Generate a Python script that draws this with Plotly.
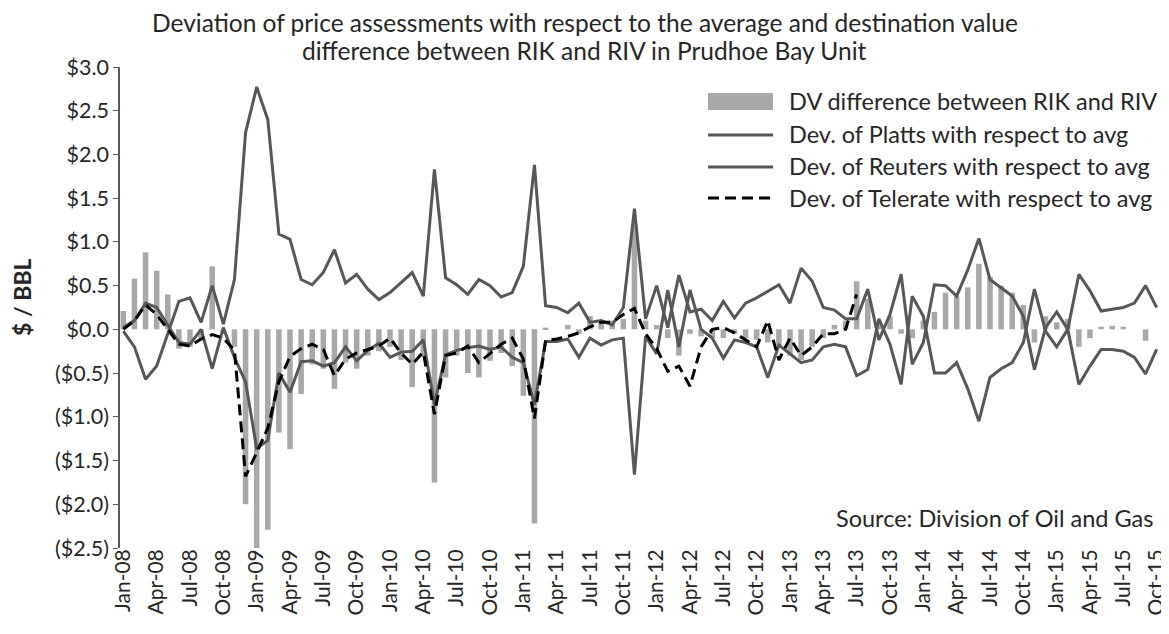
import pandas as pd
import plotly.graph_objects as go

# ---------------- data ----------------
months = list(pd.date_range("2008-01-01", "2015-10-01", freq="MS").strftime("%b-%y"))

dv_difference = [
    0.21, 0.58, 0.88, 0.67, 0.40, -0.22, -0.20, -0.12, 0.72, -0.05,
    -0.20, -2.00, -2.50, -2.29, -1.18, -1.37, -0.74, -0.40, -0.45, -0.68,
    -0.38, -0.45, -0.30, -0.25, -0.20, -0.35, -0.66, -0.30, -1.75, -0.55,
    -0.30, -0.50, -0.55, -0.36, -0.27, -0.42, -0.76, -2.22, 0.02, 0.00,
    0.05, -0.05, 0.15, 0.08, 0.10, 0.12, 1.20, 0.10, 0.05, -0.10,
    -0.30, -0.05, -0.08, -0.10, -0.10, -0.05, -0.10, -0.12, -0.15, -0.18,
    -0.30, -0.35, -0.20, -0.10, 0.05, 0.10, 0.55, 0.35, 0.05, 0.15,
    -0.05, -0.10, 0.10, 0.20, 0.42, 0.38, 0.48, 0.75, 0.60, 0.50,
    0.42, 0.28, -0.15, 0.15, 0.08, 0.12, -0.20, -0.10, 0.03, 0.04,
    0.03, 0.00, -0.13, 0.00,
]

dev_platts = [
    -0.02, -0.20, -0.57, -0.42, -0.05, 0.32, 0.36, 0.08, 0.50, 0.06,
    0.57, 2.25, 2.77, 2.40, 1.09, 1.03, 0.57, 0.51, 0.65, 0.91,
    0.53, 0.63, 0.46, 0.34, 0.42, 0.53, 0.65, 0.38, 1.83, 0.59,
    0.51, 0.40, 0.57, 0.50, 0.37, 0.42, 0.72, 1.88, 0.27, 0.25,
    0.19, 0.30, 0.08, 0.10, 0.05, 0.25, 1.38, 0.12, 0.50, 0.02,
    0.62, 0.20, 0.23, 0.10, 0.32, 0.13, 0.30, 0.36, 0.44, 0.51,
    0.30, 0.70, 0.55, 0.25, 0.22, 0.12, 0.12, 0.46, -0.12, 0.17,
    0.63, -0.40, -0.15, 0.51, 0.50, 0.38, 0.68, 1.04, 0.57, 0.47,
    0.38, 0.15, -0.46, 0.02, 0.20, 0.00, 0.63, 0.44, 0.21, 0.23,
    0.25, 0.30, 0.50, 0.25,
]

dev_reuters = [
    0.02, 0.10, 0.30, 0.25, 0.05, -0.15, -0.17, 0.00, -0.45, 0.02,
    -0.32, -0.60, -1.36, -1.27, -0.50, -0.72, -0.37, -0.36, -0.42, -0.38,
    -0.20, -0.36, -0.24, -0.16, -0.32, -0.26, -0.25, -0.12, -0.86, -0.29,
    -0.24, -0.21, -0.19, -0.23, -0.20, -0.32, -0.38, -0.86, -0.14, -0.14,
    -0.11, -0.32, -0.10, -0.18, -0.12, -0.10, -1.66, -0.08, -0.28, 0.45,
    -0.20, 0.45, 0.00, -0.10, -0.33, -0.12, -0.15, -0.20, -0.55, -0.18,
    -0.28, -0.38, -0.35, -0.20, -0.17, -0.20, -0.53, -0.46, 0.12, -0.17,
    -0.63, 0.38, 0.15, -0.50, -0.50, -0.38, -0.68, -1.05, -0.55, -0.45,
    -0.38, -0.15, 0.46, -0.02, -0.20, 0.00, -0.63, -0.42, -0.23, -0.23,
    -0.25, -0.32, -0.51, -0.23,
]

dev_telerate = [
    0.00, 0.10, 0.28, 0.17, 0.00, -0.17, -0.19, -0.11, -0.06, -0.10,
    -0.24, -1.68, -1.41, -1.13, -0.60, -0.31, -0.22, -0.17, -0.23, -0.53,
    -0.34, -0.27, -0.23, -0.19, -0.10, -0.27, -0.40, -0.26, -0.97, -0.30,
    -0.27, -0.19, -0.38, -0.27, -0.17, -0.10, -0.34, -1.02, -0.13, -0.11,
    -0.08, -0.04, 0.03, 0.08, 0.08, 0.17, 0.24, -0.05, -0.22, -0.48,
    -0.42, -0.65, -0.20, 0.00, 0.02, -0.04, -0.12, -0.20, 0.10, -0.35,
    -0.10, -0.30, -0.20, -0.05, -0.05, 0.00, 0.40,
] + [None] * 27

y_tick_values = [3.0, 2.5, 2.0, 1.5, 1.0, 0.5, 0.0, -0.5, -1.0, -1.5, -2.0, -2.5]
y_tick_labels = ["$3.0", "$2.5", "$2.0", "$1.5", "$1.0", "$0.5", "$0.0",
                 "($0.5)", "($1.0)", "($1.5)", "($2.0)", "($2.5)"]

title_lines = [
    "Deviation of price assessments with respect to the average and destination value",
    "difference between RIK and RIV in Prudhoe Bay Unit",
]
legend_labels = [
    "DV difference between RIK and RIV",
    "Dev. of Platts with respect to avg",
    "Dev. of Reuters with respect to avg",
    "Dev. of Telerate with respect to avg",
]
source_text = "Source: Division of Oil and Gas"

# ---------------- styling / layout ----------------
OFF = 8                      # page body margin of the browser
W, H = 1169 - OFF, 634 - OFF
PL, PR, PT, PB = 120, 1160, 67, 548   # plot box in window pixels
L, T = PL - OFF, PT - OFF
R, B = W - (PR - OFF), H - (PB - OFF)
FONT = "Lato, 'Open Sans', sans-serif"
TXT = "#262626"
BAR_C = "#a8a8a8"
LINE_C = "#575757"
AX_C = "#5a5a5a"


def px_x(px):
    return (px - PL) / (PR - PL)


def px_y(py):
    return (PB - py) / (PB - PT)


fig = go.Figure()
fig.add_trace(go.Bar(x=months, y=dv_difference, marker=dict(color=BAR_C, line=dict(width=0)),
                     name=legend_labels[0], showlegend=False))
fig.add_trace(go.Scatter(x=months, y=dev_platts, mode="lines", line=dict(color=LINE_C, width=3),
                         name=legend_labels[1], showlegend=False))
fig.add_trace(go.Scatter(x=months, y=dev_reuters, mode="lines", line=dict(color=LINE_C, width=3),
                         name=legend_labels[2], showlegend=False))
fig.add_trace(go.Scatter(x=months, y=dev_telerate, mode="lines",
                         line=dict(color="#000000", width=3, dash="11px,6px"),
                         name=legend_labels[3], showlegend=False, connectgaps=False))

n = len(months)
fig.update_layout(
    width=W, height=H,
    margin=dict(l=L, r=R, t=T, b=B, autoexpand=False),
    paper_bgcolor="white", plot_bgcolor="white",
    font=dict(family=FONT, size=22, color=TXT),
    bargap=0.5,
    xaxis=dict(
        type="category", range=[-0.3, n - 1 + 0.3], automargin=False,
        tickmode="array", tickvals=months[::3], ticktext=months[::3],
        tickangle=-90, showline=False, ticks="", showgrid=False, zeroline=False,
        tickfont=dict(size=21, color=TXT), ticklabelstandoff=-4,
    ),
    xaxis2=dict(
        type="linear", overlaying="x", anchor="free", position=2.5 / 5.5,
        range=[-0.3, n - 1 + 0.3], showline=True, linecolor=AX_C, linewidth=1.5,
        ticks="outside", ticklen=4, tickcolor=AX_C, tickwidth=1.2,
        tickvals=list(range(0, n, 3)), showticklabels=False, showgrid=False, zeroline=False,
    ),
    yaxis=dict(
        range=[-2.5, 3.0], tickmode="array", tickvals=y_tick_values, ticktext=y_tick_labels,
        showline=True, linecolor=AX_C, linewidth=1.5, ticks="outside", ticklen=5,
        tickcolor=AX_C, showgrid=False, zeroline=False, automargin=False,
        tickfont=dict(size=21.5, color=TXT),
    ),
)

ann = []
ann.append(dict(text=title_lines[0], x=px_x(1169 / 2), xref="paper", y=px_y(22), yref="paper",
                xanchor="center", yanchor="middle", showarrow=False, font=dict(size=24.5)))
ann.append(dict(text=title_lines[1], x=px_x(1169 / 2), xref="paper", y=px_y(50), yref="paper",
                xanchor="center", yanchor="middle", showarrow=False, font=dict(size=24.5)))
ann.append(dict(text="<b>$ / BBL</b>", x=px_x(22), xref="paper", y=px_y(297), yref="paper",
                xanchor="center", yanchor="middle", textangle=-90, showarrow=False,
                font=dict(size=23)))
ann.append(dict(text=source_text, x=px_x(1155), xref="paper", y=px_y(518), yref="paper",
                xanchor="right", yanchor="middle", showarrow=False, font=dict(size=23.5)))

# manual legend
row_y = [101, 134, 166, 198]
for label, yy in zip(legend_labels, row_y):
    ann.append(dict(text=label, x=px_x(787), xref="paper", y=px_y(yy), yref="paper",
                    xanchor="left", yanchor="middle", showarrow=False, font=dict(size=23.5)))

shapes = [
    dict(type="rect", xref="paper", yref="paper", x0=px_x(708), x1=px_x(773),
         y0=px_y(110), y1=px_y(93), fillcolor=BAR_C, line=dict(width=0)),
    dict(type="line", xref="paper", yref="paper", x0=px_x(708), x1=px_x(773),
         y0=px_y(135), y1=px_y(135), line=dict(color=LINE_C, width=3)),
    dict(type="line", xref="paper", yref="paper", x0=px_x(708), x1=px_x(773),
         y0=px_y(167), y1=px_y(167), line=dict(color=LINE_C, width=3)),
    dict(type="line", xref="paper", yref="paper", x0=px_x(708), x1=px_x(773),
         y0=px_y(198), y1=px_y(198), line=dict(color="#000000", width=3, dash="11px,6px")),
]
fig.update_layout(annotations=ann, shapes=shapes)

fig.write_html("out.html")
